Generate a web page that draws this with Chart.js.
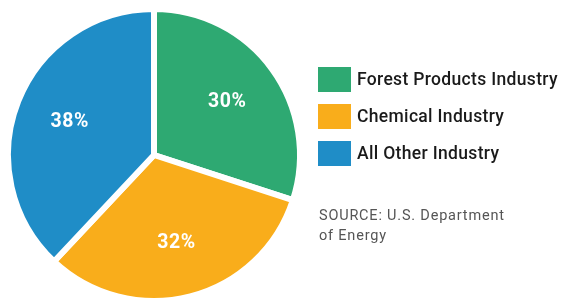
<!DOCTYPE html>
<html>
<head>
<meta charset="utf-8">
<script src="https://cdn.jsdelivr.net/npm/chart.js@4"></script>
<style>
  html, body { margin: 0; padding: 0; background: #fff; }
  #wrap { width: 561px; height: 300px; position: relative; }
</style>
</head>
<body>
<div id="wrap"><canvas id="chartCanvas" width="561" height="300"></canvas></div>
<script>
var categorias = ["Forest Products Industry", "Chemical Industry", "All Other Industry"];
var porcentajes = [30, 32, 38];
var colores = ["#2ea972", "#f9ad1b", "#1f8dc7"];
var fuente = ["SOURCE: U.S. Department", "of Energy"];

var ctx = document.getElementById("chartCanvas").getContext("2d");

// etiquetas dentro de cada porcion + leyenda + fuente
var extrasPlugin = {
  id: "extras",
  afterDatasetsDraw: function(chart) {
    var c = chart.ctx;
    var meta = chart.getDatasetMeta(0);
    c.save();
    c.fillStyle = "#fff";
    c.font = "bold 19.5px Roboto";
    c.letterSpacing = "0.6px";
    c.textAlign = "center";
    c.textBaseline = "middle";
    meta.data.forEach(function(arc, i) {
      var ang = (arc.startAngle + arc.endAngle) / 2;
      var r = arc.outerRadius * 0.62;
      c.fillText(porcentajes[i] + "%", arc.x + Math.cos(ang) * r, arc.y + Math.sin(ang) * r);
    });

    // leyenda: el texto mas largo ocupa ~201px como en el original
    c.textAlign = "left";
    c.font = "500 17.5px Roboto";
    c.letterSpacing = "0px";
    var largo = categorias[0];
    var w = c.measureText(largo).width;
    var esp = Math.max(0, (201 - w) / largo.length);
    c.letterSpacing = esp.toFixed(2) + "px";
    categorias.forEach(function(cat, i) {
      var y = 67 + i * 37;
      c.fillStyle = colores[i];
      c.fillRect(318, y, 33, 25);
      c.fillStyle = "#1a1a1a";
      c.fillText(cat, 357, y + 14);
    });

    // fuente
    c.font = "14.5px Roboto";
    c.letterSpacing = "0.8px";
    c.fillStyle = "#555";
    fuente.forEach(function(t, i) {
      c.fillText(t, 319, 216 + i * 20);
    });
    c.restore();
  }
};

var myChart = new Chart(ctx, {
  type: "pie",
  data: {
    labels: categorias,
    datasets: [{
      data: porcentajes,
      backgroundColor: colores,
      borderColor: "#fff",
      borderWidth: 6
    }]
  },
  options: {
    responsive: false,
    animation: false,
    radius: 146,
    layout: { padding: { left: 0, right: 253, top: 10, bottom: -6 } },
    plugins: {
      legend: { display: false },
      tooltip: { enabled: false }
    }
  },
  plugins: [extrasPlugin]
});
</script>
</body>
</html>
